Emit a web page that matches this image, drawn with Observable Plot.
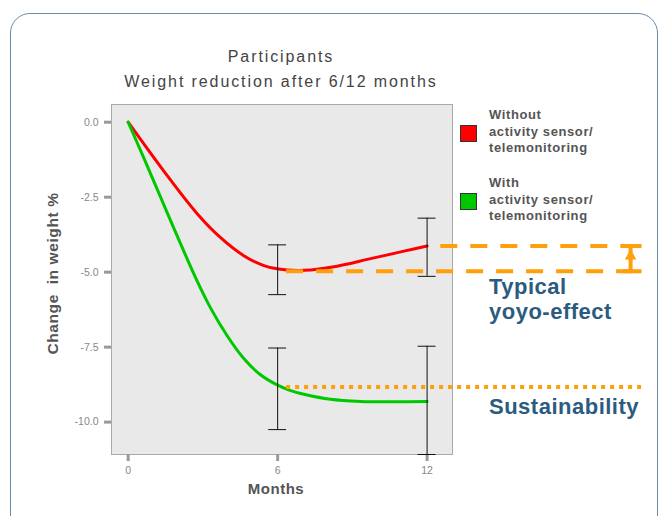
<!DOCTYPE html>
<html>
<head>
<meta charset="utf-8">
<script src="https://cdn.jsdelivr.net/npm/d3@7"></script>
<script src="https://cdn.jsdelivr.net/npm/@observablehq/plot@0.6"></script>
<style>
  html, body { margin: 0; padding: 0; background: #fff; }
  #wrap { position: relative; width: 660px; height: 516px; overflow: hidden; font-family: "Liberation Sans", Arial, sans-serif; }
  #border { position: absolute; left: 10px; top: 13px; width: 648px; height: 620px; box-sizing: border-box;
            border: 1.5px solid #6a8cab; border-radius: 20px; pointer-events: none; }
  #chart { position: absolute; left: 0; top: 0; }
  #title { position: absolute; left: 0; top: 44px; width: 562px; text-align: center; font-size: 16px;
           line-height: 25px; color: #444; letter-spacing: 1.9px; }
  .legtext { position: absolute; left: 489px; font-size: 13px; line-height: 16.5px; font-weight: bold; color: #555; letter-spacing: 0.6px; }
  .legsq { position: absolute; left: 460px; width: 15px; height: 15px; border: 1px solid #333; }
  .anno { position: absolute; left: 489px; font-size: 22px; line-height: 25px; font-weight: bold; color: #2b5c7f; letter-spacing: 0.5px; }
</style>
</head>
<body>
<div id="wrap">
  <div id="chart"></div>
  <div id="title"></div>
  <div id="legend"></div>
  <div id="annos"></div>
  <div id="border"></div>
</div>
<script>
// ---- data ----
const titleLines = ["Participants", "Weight reduction after 6/12 months"];
const xLabel = "Months";
const yLabel = "Change  in weight %";
const xTicks = [0, 6, 12];
const yTicks = [0, -2.5, -5, -7.5, -10];

const seriesNames = ["Without\nactivity sensor/\ntelemonitoring", "With\nactivity sensor/\ntelemonitoring"];
const seriesColors = ["#ff0000", "#00c800"];

// Without activity sensor (red)
const redMonths = [0, 1.43, 2.77, 3.71, 4.64, 5.45, 6.39, 7.05, 8.39, 9.73, 11.07, 12];
const redValues = [0, -1.63, -3.05, -3.85, -4.45, -4.78, -4.93, -4.94, -4.8, -4.55, -4.3, -4.13];

// With activity sensor (green)
const greenMonths = [0, 0.63, 1.30, 1.97, 2.77, 3.31, 3.98, 4.64, 5.31, 5.98, 6.52, 7.05, 8.12, 9.33, 10.67, 12];
const greenValues = [0, -1.2, -2.5, -3.8, -5.3, -6.2, -7.13, -7.88, -8.42, -8.76, -8.95, -9.07, -9.24, -9.31, -9.32, -9.31];

// error bars
const errMonths = [6, 12, 6, 12];
const errLow = [-5.75, -5.14, -10.25, -11.08];
const errHigh = [-4.09, -3.2, -7.53, -7.47];

// annotations (orange)
const yoyoLevels = [-4.13, -4.97];
const yoyoStart = [12.55, 6.36];
const sustainLevel = -8.83;
const sustainStart = 6.36;
const annoEnd = 20.63;
const arrowMonth = 20.17;
const annoTexts = ["Typical\nyoyo-effect", "Sustainability"];

// ---- build tables ----
const curves = [
  ...redMonths.map((m, i) => ({month: m, value: redValues[i], s: 0})),
  ...greenMonths.map((m, i) => ({month: m, value: greenValues[i], s: 1}))
];
const errs = errMonths.map((m, i) => ({month: m, lo: errLow[i], hi: errHigh[i]}));
const yoyo = yoyoLevels.map((v, i) => ({v, x1: yoyoStart[i], x2: annoEnd}));

const capHalf = 0.36;
const orange = "#ff9f0a";

const chart = Plot.plot({
  width: 660, height: 516,
  marginLeft: 111, marginRight: 208, marginTop: 104, marginBottom: 62,
  x: {domain: [-0.67, 13.02]},
  y: {domain: [-11.08, 0.59]},
  style: {background: "transparent", fontFamily: "'Liberation Sans', Arial, sans-serif"},
  marks: [
    Plot.frame({fill: "#e9e9e9", stroke: "#a9a9a9"}),
    Plot.axisY({ticks: yTicks, tickSize: 7, tickPadding: 6, tickFormat: d => d.toFixed(1),
      stroke: "#999", strokeWidth: 3, fill: "#888", color: "#888", fontSize: 10.5, label: null}),
    Plot.axisX({ticks: xTicks, tickSize: 7, tickPadding: 5, tickFormat: d => String(d),
      stroke: "#999", strokeWidth: 3, fill: "#888", color: "#888", fontSize: 10.5, label: null}),
    Plot.text([yLabel], {frameAnchor: "left", textAnchor: "middle", rotate: -90, dx: -58, dy: -6, fontSize: 15.5, fontWeight: "bold", fill: "#555"}),
    Plot.text([xLabel], {frameAnchor: "bottom", textAnchor: "middle", dx: -6, dy: 39, fontSize: 15, fontWeight: "bold", fill: "#555"}),
    Plot.line(curves.filter(d => d.s === 0), {x: "month", y: "value", stroke: seriesColors[0], strokeWidth: 3, curve: "catmull-rom"}),
    Plot.line(curves.filter(d => d.s === 1), {x: "month", y: "value", stroke: seriesColors[1], strokeWidth: 3, curve: "catmull-rom"}),
    Plot.ruleX(errs, {x: "month", y1: "lo", y2: "hi", stroke: "#111", strokeWidth: 1}),
    Plot.ruleY(errs, {y: "lo", x1: d => d.month - capHalf, x2: d => d.month + capHalf, stroke: "#111", strokeWidth: 1}),
    Plot.ruleY(errs, {y: "hi", x1: d => d.month - capHalf, x2: d => d.month + capHalf, stroke: "#111", strokeWidth: 1}),
    Plot.ruleY(yoyo, {y: "v", x1: "x1", x2: "x2", stroke: orange, strokeWidth: 4, strokeDasharray: "17,13"}),
    Plot.ruleY([sustainLevel], {x1: sustainStart, x2: annoEnd, stroke: orange, strokeWidth: 4, strokeDasharray: "4,5"}),
    Plot.ruleX([arrowMonth], {y1: yoyoLevels[1], y2: yoyoLevels[0], stroke: orange, strokeWidth: 4}),
    Plot.ruleY(yoyoLevels, {x1: arrowMonth - capHalf * 0.8, x2: annoEnd, stroke: orange, strokeWidth: 4}),
    Plot.dot([arrowMonth], {x: d => d, y: yoyoLevels[0], symbol: "triangle", r: 4.3, fill: orange, stroke: "none", dy: 10})
  ]
});
document.getElementById("chart").appendChild(chart);

// letter spacing tweaks for axis labels
d3.select(chart).selectAll("text").each(function() {
  const t = this.textContent;
  if (t === xLabel) this.setAttribute("letter-spacing", "0.5");
  if (t.startsWith("Change")) { this.setAttribute("letter-spacing", "0.6"); this.setAttribute("xml:space", "preserve"); this.style.whiteSpace = "pre"; }
});

// title
const title = document.getElementById("title");
title.innerHTML = titleLines.map(s => `<div>${s}</div>`).join("");

// legend
const legend = document.getElementById("legend");
const legTops = [107, 175];
const sqTops = [125, 193];
seriesNames.forEach((name, i) => {
  const sq = document.createElement("div");
  sq.className = "legsq";
  sq.style.top = sqTops[i] + "px";
  sq.style.background = seriesColors[i];
  legend.appendChild(sq);
  const tx = document.createElement("div");
  tx.className = "legtext";
  tx.style.top = legTops[i] + "px";
  tx.innerHTML = name.split("\n").join("<br>");
  legend.appendChild(tx);
});

// annotation texts
const annos = document.getElementById("annos");
const annoTops = [274, 394];
annoTexts.forEach((t, i) => {
  const el = document.createElement("div");
  el.className = "anno";
  el.style.top = annoTops[i] + "px";
  el.innerHTML = t.split("\n").join("<br>");
  annos.appendChild(el);
});
</script>
</body>
</html>
